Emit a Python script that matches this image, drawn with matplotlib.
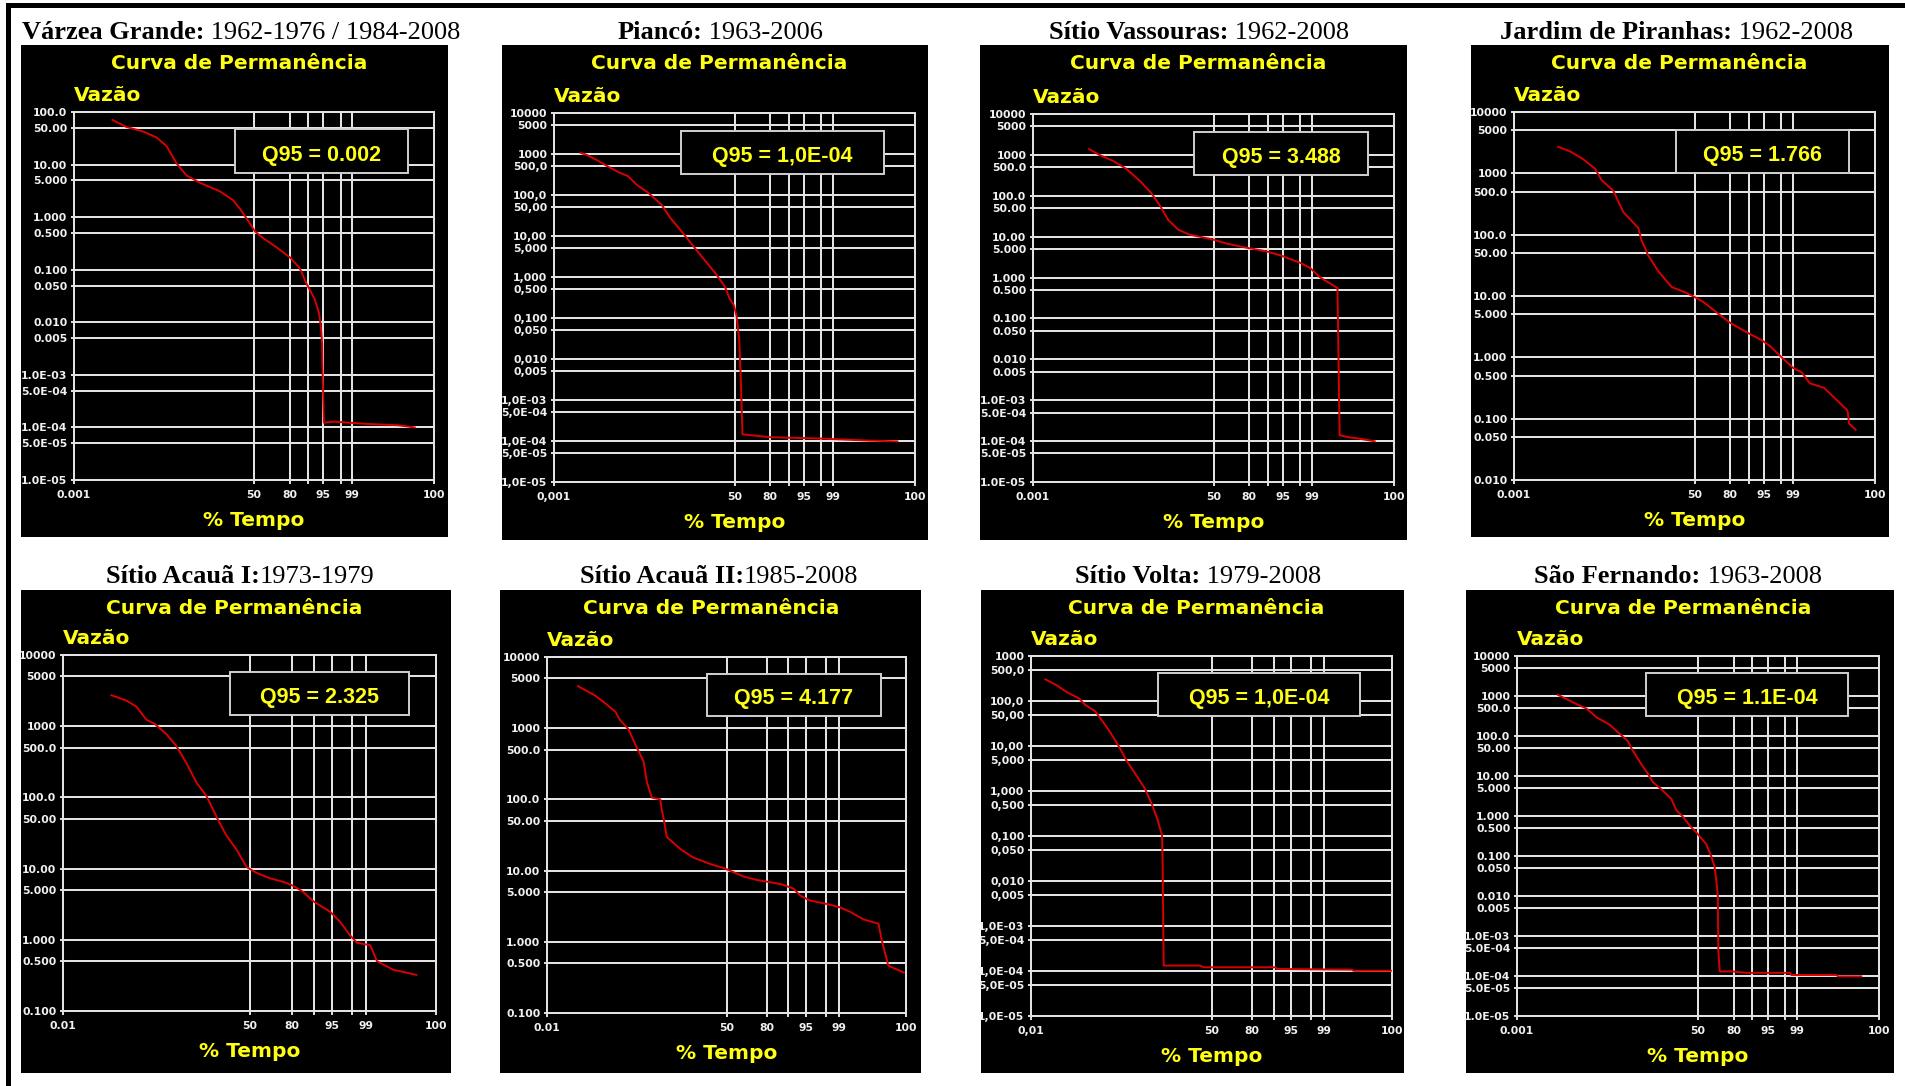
import numpy as np
import matplotlib
matplotlib.use("Agg")
import matplotlib.pyplot as plt
from matplotlib.patches import Rectangle
from matplotlib.ticker import NullLocator
from statistics import NormalDist

# Curvas de permanência de 8 postos fluviométricos (escala de probabilidade normal no eixo x)

station_names = ["Várzea Grande:", "Piancó:", "Sítio Vassouras:", "Jardim de Piranhas:",
                 "Sítio Acauã I:", "Sítio Acauã II:", "Sítio Volta:", "São Fernando:"]
station_periods = [" 1962-1976 / 1984-2008", " 1963-2006", " 1962-2008", " 1962-2008",
                   "1973-1979", "1985-2008", " 1979-2008", " 1963-2008"]
q95_text = ["Q95 = 0.002", "Q95 = 1,0E-04", "Q95 = 3.488", "Q95 = 1.766",
            "Q95 = 2.325", "Q95 = 4.177", "Q95 = 1,0E-04", "Q95 = 1.1E-04"]

pct_varzea = [0.04, 0.126, 0.43, 1.04, 1.92, 3.33, 5.5, 10, 21, 31, 37, 44.5, 50.8, 58.5, 70,
              80.3, 86, 89.3, 92.5, 93.8, 94.3, 94.7, 94.75, 95.1, 97, 99.6, 99.968, 99.993]
q_varzea = [70.5, 51.9, 42.6, 32.9, 22.4, 10.5, 6.2, 4.5, 3.1, 2.1, 1.44, 0.85, 0.54, 0.40, 0.27,
            0.171, 0.108, 0.0546, 0.0275, 0.015, 0.0088, 0.0038, 0.00164, 1.23e-4, 1.29e-4,
            1.17e-4, 1.10e-4, 1.0e-4]

pct_pianco = [0.014, 0.024, 0.056, 0.126, 0.30, 0.60, 1.0, 2.1, 4.3, 6.3, 11.3, 18.5, 25.4, 33.5,
              41, 45.6, 49.4, 52, 54.4, 55.7, 57.5, 79.8, 97.8, 99.93, 99.994]
q_pianco = [1059, 955, 718, 515, 363, 287, 183, 112, 56.8, 28.8, 11.5, 4.5, 2.27, 1.15, 0.58, 0.29,
            0.206, 0.11, 0.031, 0.0044, 1.45e-4, 1.24e-4, 1.15e-4, 1.02e-4, 0.98e-4]

pct_vassouras = [0.164, 0.35, 0.88, 1.97, 4.1, 7.1, 10.2, 14.2, 20.2, 28.2, 49, 62, 77.8, 89.2,
                 94.5, 97.9, 98.86, 99.4, 99.83, 99.856, 99.926, 99.968, 99.993]
q_vassouras = [1390, 1000, 714, 456, 230, 116, 58.5, 25.8, 14.9, 11.3, 8.6, 6.8, 5.4, 4.4, 3.44,
               2.33, 1.74, 1.02, 0.558, 1.4e-4, 1.25e-4, 1.16e-4, 0.99e-4]

pct_jardim = [0.064, 0.164, 0.43, 0.94, 1.41, 2.74, 4.65, 9.2, 10.5, 13.8, 19.7, 29.5, 41.2, 48.9,
              58.3, 70, 79.9, 89.1, 94.4, 96.3, 97.8, 99.02, 99.43, 99.68, 99.89, 99.961, 99.985,
              99.987, 99.993]
q_jardim = [2710, 2285, 1693, 1190, 773, 523, 232, 129, 81.8, 45.4, 25.2, 14.0, 11.5, 9.86, 8.0,
            5.4, 3.66, 2.57, 1.90, 1.52, 1.07, 0.668, 0.571, 0.377, 0.318, 0.201, 0.136, 0.083,
            0.066]

pct_acaua1 = [0.296, 0.70, 1.21, 2.0, 2.95, 4.9, 7.3, 10.5, 14.5, 19.6, 26.7, 32.4, 39.9, 47.7,
              55.7, 65.9, 75.1, 81, 85.9, 89.9, 94.6, 96.5, 97.8, 98.4, 99.2, 99.45, 99.79, 99.956]
q_acaua1 = [2716, 2297, 1879, 1230, 1076, 771, 521, 299, 162, 104, 47.5, 28.8, 18.4, 10.5, 8.7,
            7.3, 6.5, 5.7, 4.68, 3.46, 2.48, 1.77, 1.135, 0.908, 0.84, 0.50, 0.38, 0.322]

pct_acaua2 = [0.105, 0.33, 0.6, 1.07, 1.39, 2.1, 2.94, 4.3, 4.95, 6.1, 8.5, 9.0, 9.85, 10.8, 16.9,
              24.7, 36.8, 48.8, 63.7, 73.4, 79.8, 87.4, 91.7, 93.6, 95.8, 98.1, 99.06, 99.48,
              99.77, 99.918, 99.935, 99.96, 99.988]
q_acaua2 = [3896, 2856, 2237, 1695, 1285, 973, 591, 340, 175, 106, 100, 71.8, 48.7, 29.6, 20.1,
            15.2, 12.4, 10.7, 8.27, 7.4, 7.0, 6.4, 5.6, 4.49, 3.8, 3.4, 3.05, 2.64, 2.07, 1.79,
            1.06, 0.462, 0.37]

pct_volta = [0.031, 0.073, 0.146, 0.31, 0.47, 0.83, 1.2, 1.86, 2.8, 4.1, 5.8, 8.6, 11.0, 13.1,
             15.4, 15.7, 16.2, 40.9, 43.6, 90.6, 91.1, 99.81, 99.83, 99.989]
q_volta = [303, 221, 156, 116, 81.3, 59.3, 37, 20, 9.9, 4.5, 2.44, 1.1, 0.50, 0.249, 0.104,
           0.0255, 1.32e-4, 1.32e-4, 1.21e-4, 1.21e-4, 1.11e-4, 1.07e-4, 1.01e-4, 1.01e-4]

pct_fernando = [0.048, 0.085, 0.21, 0.43, 0.83, 1.87, 3.24, 4.95, 5.8, 8.5, 11.9, 14.5, 19.4,
                26.5, 30.4, 36.2, 42.2, 48.4, 57.8, 62.3, 65.2, 66.7, 68, 68.4, 69.6, 79.5, 87.3,
                98.5, 98.6, 99.944, 99.952, 99.994]
q_fernando = [1069, 877, 627, 485, 296, 191, 114, 74, 49.9, 22.6, 11.3, 6.9, 4.65, 2.67, 1.42,
              0.95, 0.58, 0.39, 0.196, 0.098, 0.054, 0.0245, 0.01, 4.3e-4, 1.3e-4, 1.3e-4,
              1.2e-4, 1.2e-4, 1.06e-4, 1.06e-4, 0.98e-4, 0.98e-4]

curves_pct = [pct_varzea, pct_pianco, pct_vassouras, pct_jardim,
              pct_acaua1, pct_acaua2, pct_volta, pct_fernando]
curves_q = [q_varzea, q_pianco, q_vassouras, q_jardim,
            q_acaua1, q_acaua2, q_volta, q_fernando]

# limites dos eixos
q_min = [1e-5, 1e-5, 1e-5, 0.01, 0.1, 0.1, 1e-5, 1e-5]
q_max = [100, 1e4, 1e4, 1e4, 1e4, 1e4, 1e3, 1e4]
pct_min = [0.001, 0.001, 0.001, 0.001, 0.01, 0.01, 0.01, 0.001]
pct_max = [99.999, 99.999, 99.999, 99.999, 99.99, 99.99, 99.99, 99.999]
pct_min_labels = ["0.001", "0,001", "0.001", "0.001", "0.01", "0.01", "0,01", "0.001"]
use_comma = [False, True, False, False, False, False, True, False]

q_ticks = [1e4, 5e3, 1e3, 500, 100, 50, 10, 5, 1, 0.5, 0.1, 0.05, 0.01, 0.005,
           1e-3, 5e-4, 1e-4, 5e-5, 1e-5]
q_labels_dot = ["10000", "5000", "1000", "500.0", "100.0", "50.00", "10.00", "5.000", "1.000",
                "0.500", "0.100", "0.050", "0.010", "0.005", "1.0E-03", "5.0E-04", "1.0E-04",
                "5.0E-05", "1.0E-05"]
q_labels_comma = ["10000", "5000", "1000", "500,0", "100,0", "50,00", "10,00", "5,000", "1,000",
                  "0,500", "0,100", "0,050", "0,010", "0,005", "1,0E-03", "5,0E-04", "1,0E-04",
                  "5,0E-05", "1,0E-05"]
pct_ticks = [50, 80, 90, 95, 98, 99]
pct_labels = ["50", "80", "", "95", "", "99"]

# posições em pixels: fundo preto, área do gráfico, título, caixa Q95
W, H = 1905, 1086
layout = [
    dict(panel=(21, 45, 448, 537), plot=(74, 112, 434, 480), tx=241, ty=39, box=(235, 129, 408, 173)),
    dict(panel=(502, 45, 928, 540), plot=(554, 113, 915, 482), tx=720, ty=39, box=(681, 131, 884, 174)),
    dict(panel=(980, 45, 1407, 540), plot=(1033, 114, 1394, 482), tx=1199, ty=39, box=(1194, 132, 1368, 175)),
    dict(panel=(1471, 45, 1889, 537), plot=(1514, 112, 1875, 480), tx=1677, ty=39, box=(1676, 130, 1849, 173)),
    dict(panel=(21, 590, 451, 1073), plot=(63, 655, 436, 1011), tx=240, ty=583, box=(230, 672, 409, 715)),
    dict(panel=(500, 590, 921, 1073), plot=(547, 657, 906, 1013), tx=719, ty=583, box=(707, 674, 881, 716)),
    dict(panel=(981, 590, 1404, 1073), plot=(1031, 656, 1392, 1016), tx=1198, ty=583, box=(1158, 673, 1360, 716)),
    dict(panel=(1466, 590, 1894, 1073), plot=(1517, 656, 1879, 1016), tx=1678, ty=583, box=(1646, 673, 1848, 716)),
]

YELLOW = "#ffff14"
GRID = "#e2e2e2"
RED = "#d80000"
TICKTXT = "#f0f0f0"

_nd = NormalDist()


def prob_fwd(p):
    p = np.clip(np.asarray(p, dtype=float) / 100.0, 1e-12, 1 - 1e-12)
    return np.vectorize(_nd.inv_cdf, otypes=[float])(p)


def prob_inv(z):
    return np.vectorize(_nd.cdf, otypes=[float])(np.asarray(z, dtype=float)) * 100.0


def fx(x):
    return x / W


def fy(y):
    return 1 - y / H


fig = plt.figure(figsize=(W / 100, H / 100), dpi=100)
fig.patch.set_facecolor("white")
renderer = fig.canvas.get_renderer()

# moldura (linha superior e esquerda)
fig.add_artist(Rectangle((fx(6), fy(8)), fx(W - 6), 5 / H, transform=fig.transFigure,
                         facecolor="black", edgecolor="none", zorder=5))
fig.add_artist(Rectangle((fx(6), 0), 5 / W, fy(3), transform=fig.transFigure,
                         facecolor="black", edgecolor="none", zorder=5))

for i, L in enumerate(layout):
    bx0, by0, bx1, by1 = L["panel"]
    fig.add_artist(Rectangle((fx(bx0), fy(by1)), (bx1 - bx0) / W, (by1 - by0) / H,
                             transform=fig.transFigure, facecolor="black",
                             edgecolor="none", zorder=-1))
    px0, py0, px1, py1 = L["plot"]
    ax = fig.add_axes([fx(px0), fy(py1), (px1 - px0) / W, (py1 - py0) / H])
    ax.set_facecolor("black")
    ax.set_yscale("log")
    ax.set_xscale("function", functions=(prob_fwd, prob_inv))
    ax.plot(curves_pct[i], curves_q[i], color=RED, lw=1.4, zorder=3)
    ax.set_xlim(pct_min[i], pct_max[i])
    ax.set_ylim(q_min[i], q_max[i])

    labels = q_labels_comma if use_comma[i] else q_labels_dot
    yt = [(v, s) for v, s in zip(q_ticks, labels) if q_min[i] * 0.999 <= v <= q_max[i] * 1.001]
    ax.set_yticks([v for v, s in yt], [s for v, s in yt],
                  fontweight="bold", fontsize=7.8, color=TICKTXT)
    ax.yaxis.set_minor_locator(NullLocator())
    ax.set_xticks([pct_min[i]] + pct_ticks + [pct_max[i]],
                  [pct_min_labels[i]] + pct_labels + ["100"],
                  fontweight="bold", fontsize=7.8, color=TICKTXT)
    ax.xaxis.set_minor_locator(NullLocator())
    ax.tick_params(axis="y", colors=GRID, width=1.4, length=2.2, pad=2.5, labelcolor=TICKTXT)
    ax.tick_params(axis="x", colors=GRID, width=1.4, length=3, pad=4.0, labelcolor=TICKTXT)
    ax.grid(True, color=GRID, lw=1.45)
    ax.set_axisbelow(True)
    for sp in ax.spines.values():
        sp.set_color(GRID)
        sp.set_linewidth(1.45)

    # textos internos
    pcx = (px0 + px1) / 2
    fig.text(fx(pcx - 15), fy(by0 + 24), "Curva de Permanência", color=YELLOW,
             fontsize=14.5, fontweight="bold", ha="center", va="baseline")
    fig.text(fx(px0), fy(py0 - 11), "Vazão", color=YELLOW,
             fontsize=14.5, fontweight="bold", ha="left", va="baseline")
    fig.text(fx(pcx), fy(py1 + 46), "% Tempo", color=YELLOW,
             fontsize=14.5, fontweight="bold", ha="center", va="baseline")

    # caixa Q95
    qx0, qy0, qx1, qy1 = L["box"]
    fig.add_artist(Rectangle((fx(qx0), fy(qy1)), (qx1 - qx0) / W, (qy1 - qy0) / H,
                             transform=fig.transFigure, facecolor="black",
                             edgecolor="#d0d0d0", lw=1.4, zorder=4))
    fig.text(fx((qx0 + qx1) / 2), fy(qy1 - 12), q95_text[i], color=YELLOW,
             fontsize=15.5, family="Liberation Sans", fontweight="bold",
             ha="center", va="baseline", zorder=6)

    # título: nome em negrito + período
    t1 = fig.text(0, fy(L["ty"]), station_names[i], family="Liberation Serif",
                  fontweight="bold", fontsize=19, va="baseline", color="black")
    t2 = fig.text(0, fy(L["ty"]), station_periods[i], family="Liberation Serif",
                  fontsize=19, va="baseline", color="black")
    w1 = t1.get_window_extent(renderer).width
    w2 = t2.get_window_extent(renderer).width
    x0 = L["tx"] - (w1 + w2) / 2
    t1.set_x(fx(x0))
    t2.set_x(fx(x0 + w1))

fig.savefig("out.png", dpi=100, facecolor="white")
